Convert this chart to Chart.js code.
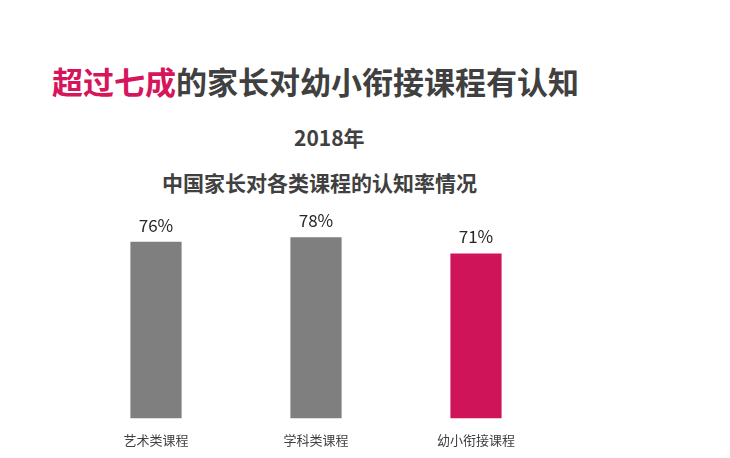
<!DOCTYPE html>
<html><head><meta charset="utf-8">
<script src="https://cdn.jsdelivr.net/npm/chart.js@4"></script>
<style>
body{margin:0;width:730px;height:458px;background:#fff;position:relative;overflow:hidden;font-family:"Noto Sans CJK SC",sans-serif}
#c{position:absolute;left:0;top:0}
.t{position:absolute;white-space:nowrap;font-weight:bold;color:#404040}
</style></head><body>
<div class="t" style="left:52px;top:58px;font-size:31px;"><span style="color:#d6155a">超过七成</span>的家长对幼小衔接课程有认知</div>
<div class="t" style="left:294px;top:122px;font-size:21px;">2018年</div>
<div class="t" style="left:162px;top:167px;font-size:21px;">中国家长对各类课程的认知率情况</div>
<canvas id="c" width="730" height="458"></canvas>
<script>
const categories=["艺术类课程","学科类课程","幼小衔接课程"];
const values=[76,78,71];
const labels=["76%","78%","71%"];
const colors=["#7f7f7f","#7f7f7f","#d0145a"];
const valLabels={id:"vl",afterDatasetsDraw(ch){const c=ch.ctx;const m=ch.getDatasetMeta(0);c.save();c.font="17px 'Noto Sans CJK SC'";c.fillStyle="#262626";c.textAlign="center";c.textBaseline="bottom";m.data.forEach((b,i)=>c.fillText(labels[i],b.x,b.y-8));c.restore();}};
new Chart(document.getElementById("c"),{type:"bar",
data:{labels:categories,datasets:[{data:values,backgroundColor:colors,barPercentage:0.32,categoryPercentage:1}]},
options:{responsive:false,animation:false,layout:{padding:{left:76,right:174,top:186,bottom:4}},
plugins:{legend:{display:false},tooltip:{enabled:false}},
scales:{y:{display:false,min:0,max:100},x:{grid:{display:false},border:{display:false},ticks:{padding:6,color:"#404040",font:{size:13,family:"Noto Sans CJK SC"}}}}},
plugins:[valLabels]});
</script></body></html>
